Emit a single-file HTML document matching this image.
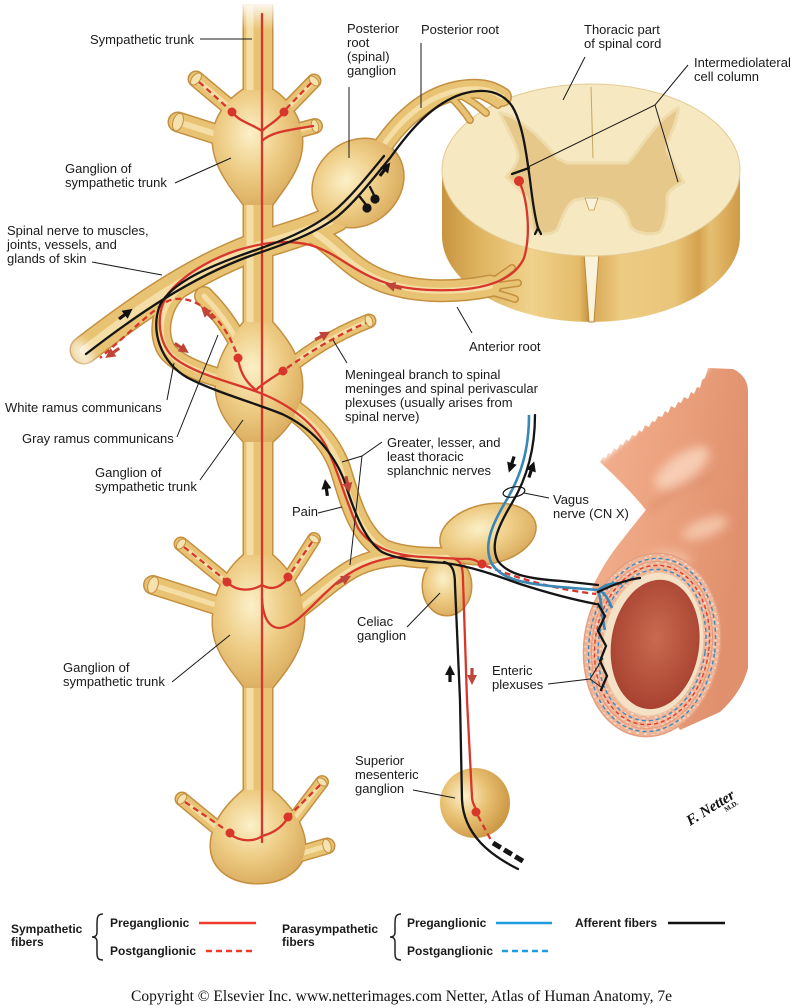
<!DOCTYPE html>
<html><head><meta charset="utf-8">
<style>
html,body{margin:0;padding:0;background:#fff;}
svg{display:block;}
text{font-family:"Liberation Sans",sans-serif;}
.l{font-size:13px;fill:#1a1a1a;}
.b{font-size:12px;font-weight:bold;fill:#1a1a1a;}
</style></head><body>
<svg xmlns="http://www.w3.org/2000/svg" width="800" height="1008" viewBox="0 0 800 1008">
<defs>
<radialGradient id="gg" cx="0.42" cy="0.38" r="0.68">
<stop offset="0" stop-color="#fcf0c8"/><stop offset="0.5" stop-color="#eecd86"/><stop offset="1" stop-color="#d9aa5c"/>
</radialGradient>
<radialGradient id="gs" cx="0.35" cy="0.4" r="0.7">
<stop offset="0" stop-color="#fbf0cc"/><stop offset="0.45" stop-color="#e9c274"/><stop offset="1" stop-color="#c8933f"/>
</radialGradient>
<linearGradient id="cs" gradientUnits="userSpaceOnUse" x1="442" y1="0" x2="740" y2="0">
<stop offset="0" stop-color="#c8943f"/><stop offset="0.12" stop-color="#deb35f"/><stop offset="0.3" stop-color="#f0d28c"/>
<stop offset="0.46" stop-color="#e4bb6a"/><stop offset="0.49" stop-color="#c99540"/><stop offset="0.51" stop-color="#d9aa58"/>
<stop offset="0.6" stop-color="#eccb82"/><stop offset="0.78" stop-color="#e9c57a"/><stop offset="0.86" stop-color="#d5a24e"/>
<stop offset="0.9" stop-color="#e6bf72"/><stop offset="1" stop-color="#cf9a45"/>
</linearGradient>
<linearGradient id="fadeTop" x1="0" y1="0" x2="0" y2="1">
<stop offset="0" stop-color="#fff" stop-opacity="1"/><stop offset="1" stop-color="#fff" stop-opacity="0"/>
</linearGradient>
<radialGradient id="lum" cx="0.5" cy="0.45" r="0.6"><stop offset="0" stop-color="#c96b50"/><stop offset="1" stop-color="#a53f2e"/></radialGradient>
<linearGradient id="gut" x1="0" y1="0" x2="1" y2="0.3"><stop offset="0" stop-color="#f2b291"/><stop offset="0.5" stop-color="#eca27f"/><stop offset="1" stop-color="#e0906d"/></linearGradient>
<filter id="bl" x="-50%" y="-50%" width="200%" height="200%"><feGaussianBlur stdDeviation="5"/></filter>
<filter id="bl2" x="-20%" y="-20%" width="140%" height="140%"><feGaussianBlur stdDeviation="2"/></filter>
<pattern id="sp" width="8" height="6" patternUnits="userSpaceOnUse"><rect width="8" height="6" fill="#efb396"/><ellipse cx="2" cy="2" rx="1.6" ry="1" fill="#f8d8c4"/><ellipse cx="6" cy="5" rx="1.4" ry="0.9" fill="#f8d8c4"/></pattern>
<g id="ah"><path d="M-10,0H-1" stroke-width="3.2" fill="none"/><path d="M-3,-5 L7,0 L-3,5 Z" stroke="none"/></g>

<path id="t1" d="M 258,4 L 258,872"/>
<path id="t2" d="M 196,79 L 240,116"/>
<path id="t3" d="M 178,122 L 222,136"/>
<path id="t4" d="M 314,81 L 280,116"/>
<path id="t5" d="M 315,126 L 285,134"/>
<path id="t6" d="M 84,350 C 136,310 192,270 255,247 C 288,236 312,230 336,218"/>
<path id="t7" d="M 180,288 C 160,306 156,336 168,352 C 182,368 212,376 240,384 L 262,394"/>
<path id="t8" d="M 248,366 C 240,342 226,318 204,296"/>
<path id="t9" d="M 272,382 C 298,358 330,336 369,321"/>
<path id="t10" d="M 278,400 C 308,418 330,440 340,468 C 350,500 358,534 384,550 C 404,558 426,558 448,558"/>
<path id="t11" d="M 380,150 C 400,120 426,96 460,90 C 478,87 490,89 502,97"/>
<path id="t12" d="M 316,234 C 340,250 352,270 385,282 C 420,294 460,292 490,286"/>
<path id="t13" d="M 181,544 L 232,586"/>
<path id="t14" d="M 153,585 L 222,607"/>
<path id="t15" d="M 314,539 L 284,586"/>
<path id="t16" d="M 292,614 C 312,600 330,582 352,569 C 370,559 390,556 412,556"/>
<path id="t17" d="M 182,799 L 232,840"/>
<path id="t18" d="M 322,782 L 287,828"/>
<path id="t19" d="M 327,846 L 296,855"/>
<path id="r1" d="M 450,96 Q 462,108 470,120"/>
<path id="r2" d="M 456,93 Q 472,100 486,113"/>
<path id="r3" d="M 465,90 Q 482,94 498,105"/>
<path id="r4" d="M 484,287 Q 498,278 512,268"/>
<path id="r5" d="M 486,288 Q 502,285 518,283"/>
<path id="r6" d="M 484,290 Q 500,294 515,299"/>

<path id="g1" d="M 243,90 C 228,100 212,118 213,142 C 214,168 232,188 244,205 L 272,205 C 284,188 302,168 302,142 C 302,118 288,100 273,90 Z"/>
<path id="g2" d="M 244,322 C 230,340 214,362 216,390 C 218,414 232,428 244,442 L 272,442 C 288,428 302,410 302,386 C 302,360 288,340 272,322 Z"/>
<path id="g3" d="M 244,555 C 226,570 212,595 213,625 C 214,652 232,670 245,688 L 272,688 C 288,668 304,648 304,620 C 304,592 290,570 272,555 Z"/>
<path id="g4" d="M 244,790 C 226,805 210,825 211,848 C 212,868 230,883 258,883 C 285,883 304,868 305,848 C 305,825 290,805 272,790 Z"/>
<ellipse id="pg" cx="358" cy="183" rx="48" ry="41" transform="rotate(-40 358 183)"/>
<ellipse id="c1" cx="488" cy="534" rx="48" ry="29" transform="rotate(-12 488 534)"/>
<ellipse id="c2" cx="447" cy="586" rx="24" ry="29"/>
</defs>

<!-- GUT -->
<path d="M 600,462 L 603,457 L 606,458 L 608,453 L 611,454 L 614,448 L 617,450 L 620,444 L 623,445 L 626,439 L 629,441 L 632,435 L 636,436 L 639,430 L 642,432 L 645,425 L 649,427 L 652,421 L 655,422 L 658,416 L 662,417 L 665,411 L 668,413 L 671,406 L 675,408 L 678,402 L 681,403 L 684,397 L 688,399 L 691,392 L 694,394 L 697,387 L 700,388 L 702,380 L 705,378 L 708,368 L 733,369 Q 748,376 748,392 L 748,668 Q 742,692 720,712 L 680,730 L 600,600 L 592,588 Q 604,562 622,540 Q 636,522 646,510 Q 630,490 600,462 Z" fill="url(#gut)"/>
<path d="M 600,460 L 708,366" stroke="#fff" stroke-width="7" opacity="0.6" filter="url(#bl2)" fill="none"/>
<g filter="url(#bl)">
<ellipse cx="682" cy="468" rx="32" ry="13" transform="rotate(-35 682 468)" fill="#f9d5bd" opacity="0.85"/>
<ellipse cx="705" cy="528" rx="24" ry="9" transform="rotate(-20 705 528)" fill="#f8d0b5" opacity="0.8"/>
<path d="M 648,512 C 665,495 690,482 712,478" stroke="#d98a68" stroke-width="4" fill="none"/>
<ellipse cx="668" cy="560" rx="22" ry="10" fill="#f6c7aa" opacity="0.7"/>
</g>
<g transform="rotate(8 652 645)">
<ellipse cx="652" cy="645" rx="68" ry="92" fill="url(#sp)" stroke="#e49f80" stroke-width="1.5"/>
<ellipse cx="652" cy="645" rx="60" ry="84" fill="none" stroke="#e39a7b" stroke-width="1"/>
<ellipse cx="652" cy="645" rx="63" ry="87" fill="none" stroke="#3d8cc0" stroke-width="1.4" stroke-dasharray="4 3"/>
<ellipse cx="652" cy="645" rx="57" ry="80" fill="none" stroke="#dc3d2d" stroke-width="1.4" stroke-dasharray="4 3"/>
<ellipse cx="652" cy="645" rx="53.5" ry="76" fill="none" stroke="#3d8cc0" stroke-width="1.4" stroke-dasharray="4 3"/>
<ellipse cx="653" cy="644" rx="50" ry="72" fill="#f4e1c6" stroke="#e9c8a6"/>
<ellipse cx="655" cy="644" rx="44" ry="65" fill="url(#lum)"/>
</g>

<!-- SPINAL CORD -->
<path d="M 442,170 L 442,236 A 149 86 0 0 0 740,236 L 740,170 Z" fill="url(#cs)"/>
<path d="M 584,252 L 599,252 L 594,322 L 589,322 Z" fill="#fbf2dc" stroke="#b98a3b" stroke-width="1"/>
<ellipse cx="591" cy="170" rx="149" ry="86" fill="#f6e8c0" stroke="#e4cb92" stroke-width="1"/>
<path d="M 500,113 C 515,115 540,135 557,158 L 567,163 L 627,163 L 633,157 C 645,140 660,118 678,108 C 678,125 665,140 667,150 C 672,163 678,172 684,182 C 676,186 668,190 667,197 C 668,210 665,225 660,232 C 650,236 635,233 630,226 C 628,215 622,205 610,200 L 600,198 L 586,198 L 575,200 C 565,205 562,220 557,230 C 550,236 535,235 532,228 C 530,215 530,205 526,197 C 520,190 512,182 506,177 C 512,170 518,163 518,155 C 515,140 505,125 500,113 Z" fill="#e6c88a" stroke="#efdcac" stroke-width="3"/>
<path d="M 591,87 L 593,158" stroke="#c9a660" stroke-width="1"/>
<path d="M 585,198 L 598,198 L 594,210 L 589,210 Z" fill="#fbf2dc" stroke="#c19a50" stroke-width="0.8"/>

<!-- NERVE TUBES: outline layer -->
<g fill="none" stroke="#c4903f" stroke-linecap="round">
<use href="#t1" stroke-width="31" stroke-linecap="butt"/>
<use href="#t2" stroke-width="17"/><use href="#t3" stroke-width="21"/><use href="#t4" stroke-width="15"/><use href="#t5" stroke-width="16"/>
<use href="#t6" stroke-width="29"/><use href="#t7" stroke-width="20"/><use href="#t8" stroke-width="20"/><use href="#t9" stroke-width="15"/>
<use href="#t10" stroke-width="22"/><use href="#t11" stroke-width="20"/><use href="#t12" stroke-width="23"/>
<use href="#t13" stroke-width="15"/><use href="#t14" stroke-width="20"/><use href="#t15" stroke-width="14"/><use href="#t16" stroke-width="20"/>
<use href="#t17" stroke-width="15"/><use href="#t18" stroke-width="14"/><use href="#t19" stroke-width="17"/>
<use href="#r1" stroke-width="8"/><use href="#r2" stroke-width="8"/><use href="#r3" stroke-width="8"/>
<use href="#r4" stroke-width="8"/><use href="#r5" stroke-width="8"/><use href="#r6" stroke-width="8"/>
</g>
<g fill="#c4903f" stroke="#c4903f" stroke-width="3">
<use href="#g1"/><use href="#g2"/><use href="#g3"/><use href="#g4"/><use href="#pg"/><use href="#c1"/><use href="#c2"/>
</g>
<!-- base layer -->
<g fill="none" stroke="#e8c374" stroke-linecap="round">
<use href="#t1" stroke-width="28" stroke-linecap="butt"/>
<use href="#t2" stroke-width="14"/><use href="#t3" stroke-width="18"/><use href="#t4" stroke-width="12"/><use href="#t5" stroke-width="13"/>
<use href="#t6" stroke-width="26"/><use href="#t7" stroke-width="17"/><use href="#t8" stroke-width="17"/><use href="#t9" stroke-width="12"/>
<use href="#t10" stroke-width="19"/><use href="#t11" stroke-width="17"/><use href="#t12" stroke-width="20"/>
<use href="#t13" stroke-width="12"/><use href="#t14" stroke-width="17"/><use href="#t15" stroke-width="11"/><use href="#t16" stroke-width="17"/>
<use href="#t17" stroke-width="12"/><use href="#t18" stroke-width="11"/><use href="#t19" stroke-width="14"/>
<use href="#r1" stroke-width="5"/><use href="#r2" stroke-width="5"/><use href="#r3" stroke-width="5"/>
<use href="#r4" stroke-width="5"/><use href="#r5" stroke-width="5"/><use href="#r6" stroke-width="5"/>
</g>
<!-- highlight layer -->
<g fill="none" stroke="#f7e3ae" stroke-linecap="round" opacity="0.85">
<path d="M 250,6 L 250,870" stroke-width="7" stroke-linecap="butt"/>
<use href="#t2" stroke-width="5"/><use href="#t3" stroke-width="6"/><use href="#t4" stroke-width="4"/><use href="#t5" stroke-width="4"/>
<use href="#t6" stroke-width="8"/><use href="#t7" stroke-width="5"/><use href="#t8" stroke-width="5"/><use href="#t9" stroke-width="4"/>
<use href="#t10" stroke-width="6"/><use href="#t11" stroke-width="5"/><use href="#t12" stroke-width="6"/>
<use href="#t13" stroke-width="4"/><use href="#t14" stroke-width="5"/><use href="#t15" stroke-width="4"/><use href="#t16" stroke-width="5"/>
<use href="#t17" stroke-width="4"/><use href="#t18" stroke-width="4"/><use href="#t19" stroke-width="5"/>
</g>
<!-- ganglia fills -->
<g fill="url(#gg)">
<use href="#g1"/><use href="#g2"/><use href="#g3"/><use href="#g4"/><use href="#pg"/><use href="#c1"/><use href="#c2"/>
</g>
<!-- top fade of trunk -->
<rect x="238" y="0" width="42" height="30" fill="url(#fadeTop)"/>
<!-- cut caps -->
<g fill="#f5e2ae" stroke="#c4903f" stroke-width="1">
<ellipse cx="196" cy="79" rx="7" ry="4" transform="rotate(-50 196 79)"/>
<ellipse cx="178" cy="122" rx="9" ry="5" transform="rotate(107 178 122)"/>
<ellipse cx="314" cy="81" rx="6" ry="3.5" transform="rotate(44 314 81)"/>
<ellipse cx="315" cy="126" rx="6.5" ry="3.5" transform="rotate(75 315 126)"/>
<ellipse cx="369" cy="321" rx="6" ry="3.5" transform="rotate(69 369 321)"/>
<ellipse cx="181" cy="544" rx="6" ry="3.5" transform="rotate(-50 181 544)"/>
<ellipse cx="153" cy="585" rx="8.5" ry="5" transform="rotate(107 153 585)"/>
<ellipse cx="314" cy="539" rx="5.5" ry="3.2" transform="rotate(32 314 539)"/>
<ellipse cx="182" cy="799" rx="6" ry="3.5" transform="rotate(-50 182 799)"/>
<ellipse cx="322" cy="782" rx="5.5" ry="3.2" transform="rotate(37 322 782)"/>
<ellipse cx="327" cy="846" rx="7" ry="4" transform="rotate(74 327 846)"/>
</g>
<ellipse cx="82" cy="354" rx="9" ry="16" transform="rotate(-35 82 354)" fill="#fff" opacity="0.7" filter="url(#bl)"/>
<!-- superior mesenteric ganglion -->
<circle cx="475" cy="803" r="35" fill="url(#gs)"/>

<!-- RED FIBERS -->
<g fill="none" stroke="#d8362b" stroke-width="2.3" stroke-linecap="round">
<path d="M 262,14 L 262,842"/>
<path d="M 233,113 C 240,122 252,124 262,131"/>
<path d="M 283,113 C 276,122 268,125 262,131"/>
<path d="M 262,141 C 270,133 282,131 313,126"/>
<path d="M 519,181 C 528,200 531,235 524,258 C 515,278 490,288 455,290 C 425,291 400,289 378,280 C 352,270 335,252 310,245 C 285,239 262,243 238,250 C 208,260 182,276 168,294 C 156,312 157,340 172,356 C 190,372 226,381 252,390 C 284,401 312,420 326,446 C 338,470 346,502 358,528 C 371,548 395,556 425,557 L 462,559"/>
<path d="M 238,358 C 240,374 248,384 256,390"/>
<path d="M 283,371 C 272,378 262,384 256,390"/>
<path d="M 228,583 C 238,592 252,591 262,585"/>
<path d="M 287,579 C 279,589 270,590 262,585"/>
<path d="M 262,598 C 263,620 270,628 280,628 C 298,626 315,600 340,580 C 358,566 380,557 412,556"/>
<path d="M 230,834 C 240,842 254,842 262,836"/>
<path d="M 287,819 C 280,830 270,834 262,836"/>
<path d="M 455,559 C 461,561 463,568 463,580 L 467,700 L 472,797 C 472,803 475,806 476,810"/>
<path d="M 462,559 C 470,558 476,560 480,563"/>
</g>
<g fill="none" stroke="#d8362b" stroke-width="2.3" stroke-dasharray="6 4">
<path d="M 199,82 L 229,109"/>
<path d="M 311,83 L 286,109"/>
<path d="M 236,352 C 230,336 220,320 206,309 C 194,300 180,296 168,301 C 150,312 128,334 100,358"/>
<path d="M 287,368 C 310,352 335,336 366,323"/>
<path d="M 184,547 L 224,579"/>
<path d="M 312,542 L 290,574"/>
<path d="M 185,802 L 226,830"/>
<path d="M 320,785 L 290,815"/>
<path d="M 486,566 C 510,575 545,588 596,594"/>
<path d="M 478,816 L 492,842"/>
</g>
<g fill="#d8362b">
<circle cx="232" cy="112" r="4.5"/><circle cx="284" cy="112" r="4.5"/><circle cx="238" cy="358" r="4.5"/><circle cx="283" cy="371" r="4.5"/>
<circle cx="227" cy="582" r="4.5"/><circle cx="288" cy="577" r="4.5"/><circle cx="230" cy="833" r="4.5"/><circle cx="288" cy="817" r="4.5"/>
<circle cx="519" cy="181" r="5"/><circle cx="482" cy="564" r="4.5"/><circle cx="476" cy="812" r="4.5"/>
</g>

<!-- BLUE (vagus) -->
<g fill="none" stroke="#3a86b4" stroke-width="2.6">
<path d="M 529,415 C 529,450 521,476 506,501 C 491,526 483,547 492,564 C 502,580 527,584 560,587 L 598,590"/>
<path d="M 598,590 C 604,592 608,598 612,608"/>
<path d="M 598,590 C 602,600 601,615 605,630"/>
<path d="M 598,590 C 606,584 614,582 622,584"/>
</g>

<!-- BLACK FIBERS -->
<g fill="none" stroke="#151515" stroke-width="2.3" stroke-linecap="round">
<path d="M 86,354 C 135,316 190,278 250,256 C 285,244 315,234 338,216 C 355,202 372,180 390,158 C 410,130 432,104 462,94 C 485,87 502,92 512,106 C 522,122 526,150 530,180 C 533,205 535,218 538,228"/>
<path d="M 538,228 l -3,6 M 538,228 l 3,6 M 529,168 L 512,174"/>
<path d="M 596,604 C 575,600 548,593 520,584 C 495,575 470,566 445,563 C 420,561 398,560 382,552 C 364,540 353,508 344,480 C 333,452 312,428 282,414 C 252,402 218,393 188,378 C 160,362 150,330 160,305 C 172,282 210,266 250,252 C 282,241 310,230 333,212 C 350,198 366,178 384,156"/>
<path d="M 360,197 L 367,206 M 370,187 L 375,197"/>
<path d="M 444,562 C 452,564 455,570 455,585 L 460,700 L 462,800 C 464,835 490,855 518,869"/>
<path d="M 535,415 C 535,450 527,478 512,503 C 497,528 490,546 498,561 C 508,575 530,579 562,581 L 598,585"/>
<path d="M 598,604 L 605,616 L 598,631 L 606,646 L 600,661 L 607,676 L 601,690"/>
<path d="M 598,592 C 610,586 625,580 640,578"/>
</g>
<g fill="#151515"><circle cx="367" cy="208" r="4.6"/><circle cx="375" cy="199" r="4.6"/></g>
<path d="M 493,843 L 526,863" stroke="#151515" stroke-width="5" stroke-dasharray="9 4" fill="none"/>
<ellipse cx="514" cy="492" rx="11" ry="5" transform="rotate(-10 514 492)" fill="none" stroke="#111" stroke-width="1.2"/>

<!-- ARROWS -->
<g fill="#111" stroke="#111">
<use href="#ah" transform="translate(127,313) rotate(-37)"/>
<use href="#ah" transform="translate(386,168) rotate(-52)"/>
<use href="#ah" transform="translate(326,486) rotate(-98)"/>
<use href="#ah" transform="translate(511,466) rotate(108)"/>
<use href="#ah" transform="translate(532,468) rotate(-72)"/>
<use href="#ah" transform="translate(450,672) rotate(-90)"/>
</g>
<g fill="#bf4538" stroke="#bf4538">
<use href="#ah" transform="translate(111,354) rotate(145)"/>
<use href="#ah" transform="translate(206,312) rotate(-135)"/>
<use href="#ah" transform="translate(183,349) rotate(35)"/>
<use href="#ah" transform="translate(392,286) rotate(195)"/>
<use href="#ah" transform="translate(324,335) rotate(-28)"/>
<use href="#ah" transform="translate(348,486) rotate(78)"/>
<use href="#ah" transform="translate(345,579) rotate(-28)"/>
<use href="#ah" transform="translate(472,678) rotate(90)"/>
</g>

<!-- LEADER LINES -->
<g stroke="#1a1a1a" stroke-width="1" fill="none">
<path d="M 200,39 L 252,39"/>
<path d="M 349,87 L 349,158"/>
<path d="M 421,43 L 421,108"/>
<path d="M 585,57 L 563,100"/>
<path d="M 688,65 L 655,105 L 528,167 M 655,105 L 678,182"/>
<path d="M 175,183 L 231,158"/>
<path d="M 92,262 L 162,275"/>
<path d="M 167,400 L 174,363"/>
<path d="M 177,437 L 218,335"/>
<path d="M 200,480 L 243,420"/>
<path d="M 347,363 L 333,340"/>
<path d="M 472,333 L 457,307"/>
<path d="M 382,442 L 362,456 L 342,462 M 362,456 L 350,565"/>
<path d="M 318,513 L 342,507"/>
<path d="M 549,498 L 524,493"/>
<path d="M 407,627 L 440,593"/>
<path d="M 172,682 L 230,635"/>
<path d="M 548,684 L 590,679 L 603,658 M 590,679 L 601,687"/>
<path d="M 413,790 L 455,798"/>
</g>

<!-- LABELS -->
<text class="l" x="90" y="44">Sympathetic trunk</text>
<text class="l" x="347" y="33">Posterior</text>
<text class="l" x="347" y="47">root</text>
<text class="l" x="347" y="61">(spinal)</text>
<text class="l" x="347" y="75">ganglion</text>
<text class="l" x="421" y="34">Posterior root</text>
<text class="l" x="584" y="34">Thoracic part</text>
<text class="l" x="584" y="48">of spinal cord</text>
<text class="l" x="694" y="67">Intermediolateral</text>
<text class="l" x="694" y="81">cell column</text>
<text class="l" x="65" y="173">Ganglion of</text>
<text class="l" x="65" y="187">sympathetic trunk</text>
<text class="l" x="7" y="235">Spinal nerve to muscles,</text>
<text class="l" x="7" y="249">joints, vessels, and</text>
<text class="l" x="7" y="263">glands of skin</text>
<text class="l" x="5" y="412">White ramus communicans</text>
<text class="l" x="22" y="443">Gray ramus communicans</text>
<text class="l" x="95" y="477">Ganglion of</text>
<text class="l" x="95" y="491">sympathetic trunk</text>
<text class="l" x="469" y="351">Anterior root</text>
<text class="l" x="345" y="379">Meningeal branch to spinal</text>
<text class="l" x="345" y="393">meninges and spinal perivascular</text>
<text class="l" x="345" y="407">plexuses (usually arises from</text>
<text class="l" x="345" y="421">spinal nerve)</text>
<text class="l" x="387" y="447">Greater, lesser, and</text>
<text class="l" x="387" y="461">least thoracic</text>
<text class="l" x="387" y="475">splanchnic nerves</text>
<text class="l" x="292" y="516">Pain</text>
<text class="l" x="553" y="504">Vagus</text>
<text class="l" x="553" y="518">nerve (CN X)</text>
<text class="l" x="357" y="626">Celiac</text>
<text class="l" x="357" y="640">ganglion</text>
<text class="l" x="63" y="672">Ganglion of</text>
<text class="l" x="63" y="686">sympathetic trunk</text>
<text class="l" x="492" y="675">Enteric</text>
<text class="l" x="492" y="689">plexuses</text>
<text class="l" x="355" y="765">Superior</text>
<text class="l" x="355" y="779">mesenteric</text>
<text class="l" x="355" y="793">ganglion</text>

<!-- signature -->
<text transform="translate(690,826) rotate(-32)" font-style="italic" font-weight="bold" font-size="15" fill="#111" style="font-family:'Liberation Serif',serif">F. Netter</text>
<text transform="translate(726,812) rotate(-32)" font-size="7" font-weight="bold" fill="#111" style="font-family:'Liberation Serif',serif">M.D.</text>

<!-- LEGEND -->
<text class="b" x="11" y="933">Sympathetic</text>
<text class="b" x="11" y="946">fibers</text>
<path d="M 103,914 C 97,914 97,918 97,925 L 97,932 C 97,936 95,937 92,937 C 95,937 97,938 97,942 L 97,953 C 97,958 98,960 103,960" stroke="#222" stroke-width="1.5" fill="none"/>
<text class="b" x="110" y="927">Preganglionic</text>
<text class="b" x="110" y="955">Postganglionic</text>
<path d="M 199,923 L 256,923" stroke="#ee3b2a" stroke-width="2.5"/>
<path d="M 206,951 L 256,951" stroke="#ee3b2a" stroke-width="2.5" stroke-dasharray="6 4"/>
<text class="b" x="282" y="933">Parasympathetic</text>
<text class="b" x="282" y="946">fibers</text>
<path d="M 401,914 C 395,914 395,918 395,925 L 395,932 C 395,936 393,937 390,937 C 393,937 395,938 395,942 L 395,953 C 395,958 396,960 401,960" stroke="#222" stroke-width="1.5" fill="none"/>
<text class="b" x="407" y="927">Preganglionic</text>
<text class="b" x="407" y="955">Postganglionic</text>
<path d="M 496,923 L 552,923" stroke="#1d9ee2" stroke-width="2.5"/>
<path d="M 502,951 L 552,951" stroke="#1d9ee2" stroke-width="2.5" stroke-dasharray="6 4"/>
<text class="b" x="575" y="927">Afferent fibers</text>
<path d="M 668,923 L 725,923" stroke="#111" stroke-width="2.5"/>

<text x="131" y="1001" font-size="15.5" fill="#111" textLength="541" lengthAdjust="spacingAndGlyphs" style="font-family:'Liberation Serif',serif">Copyright © Elsevier Inc.  www.netterimages.com Netter, Atlas of Human Anatomy, 7e</text>
</svg>
</body></html>
